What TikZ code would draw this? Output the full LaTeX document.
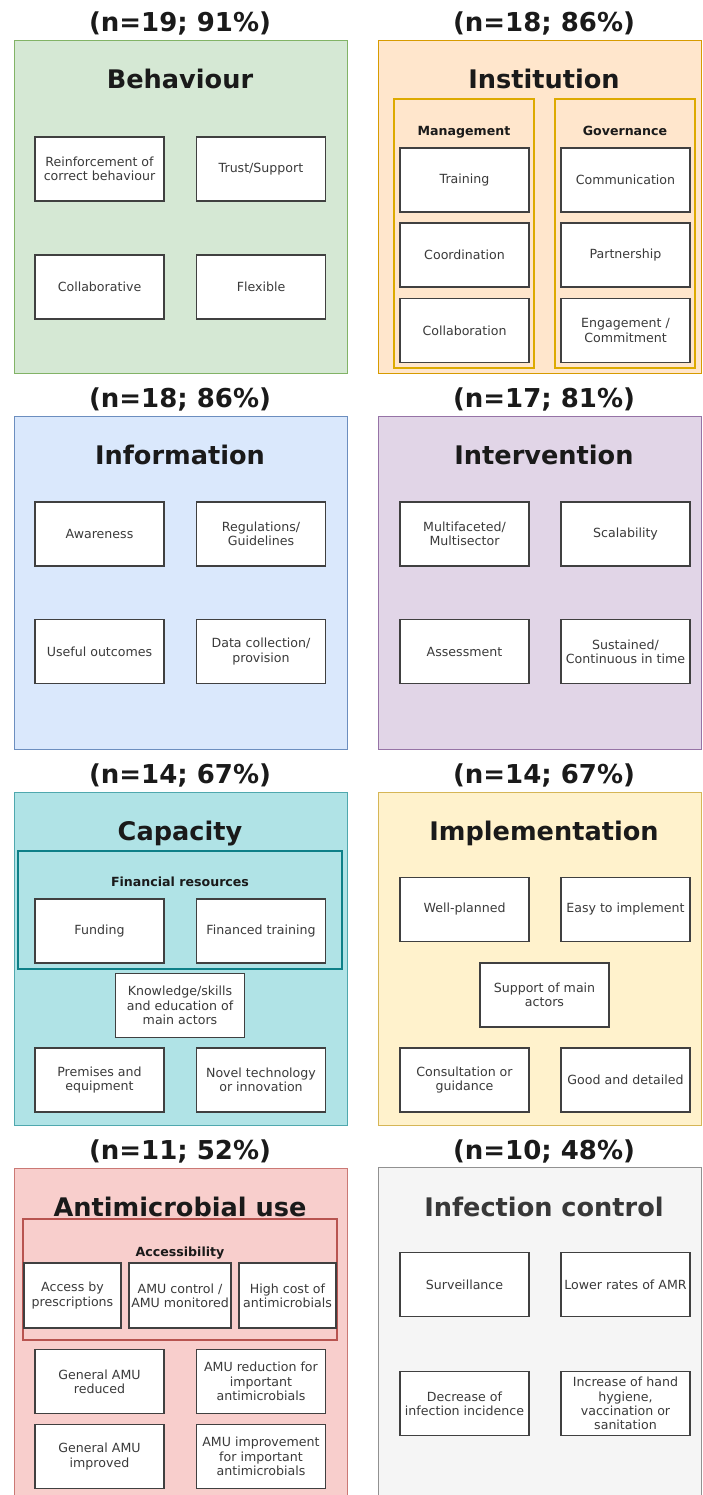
\documentclass[tikz,border=0pt]{standalone}
\usepackage{fontspec}
\setmainfont{DejaVu Sans}
\definecolor{gfill}{HTML}{D5E8D4}\definecolor{gline}{HTML}{82B366}
\definecolor{ofill}{HTML}{FFE6CC}\definecolor{oline}{HTML}{D79B00}
\definecolor{bfill}{HTML}{DAE8FC}\definecolor{bline}{HTML}{6C8EBF}
\definecolor{pfill}{HTML}{E1D5E7}\definecolor{pline}{HTML}{9673A6}
\definecolor{tfill}{HTML}{B0E3E6}\definecolor{tline}{HTML}{0E8088}
\definecolor{yfill}{HTML}{FFF2CC}\definecolor{yline}{HTML}{D6B656}
\definecolor{rfill}{HTML}{F8CECC}\definecolor{rline}{HTML}{B85450}
\definecolor{sfill}{HTML}{F5F5F5}\definecolor{sline}{HTML}{666666}
\definecolor{boxtxt}{HTML}{3A3A3A}
\definecolor{headtxt}{HTML}{1A1A1A}
\begin{document}
\begin{tikzpicture}[x=0.5pt,y=-0.5pt,
  panel/.style={line width=0.5pt},
  grp/.style={line width=1.4pt},
  box/.style={draw=black!75, fill=white, line width=0.7pt, minimum width=64.5pt, minimum height=32pt,
    inner sep=0pt, align=center, font=\fontsize{6.3}{7.15}\selectfont, text=boxtxt},
  head/.style={font=\bfseries\fontsize{12.8}{15}\selectfont, text=headtxt, text height=0.75em, text depth=0.22em, yshift=-1.8pt},
  pct/.style={font=\bfseries\fontsize{13}{15}\selectfont, text=headtxt, text height=0.75em, text depth=0.22em, yshift=-1.8pt},
  sub/.style={font=\bfseries\fontsize{6.3}{7.5}\selectfont, text=headtxt, text height=0.75em, text depth=0.22em}]
\useasboundingbox (0,0) rectangle (702,1495);
\fill[white] (0,0) rectangle (702,1495);

% ---------- Row 1 ----------
\draw[panel, draw=gline, fill=gfill] (14,40) rectangle (347,373);
\node[pct] (t1) at (180,23) {(n=19; 91\%)};
\node[head] (h1) at (180,80) {Behaviour};
\node[box] (b11) at (99.5,169) {Reinforcement of\\correct behaviour};
\node[box] (b12) at (261,169) {Trust/Support};
\node[box] (b13) at (99.5,287) {Collaborative};
\node[box] (b14) at (261,287) {Flexible};

\draw[panel, draw=oline, fill=ofill] (378,40) rectangle (701.5,373);
\node[pct] (t2) at (544,23) {(n=18; 86\%)};
\node[head] (h2) at (544,80) {Institution};
\draw[line width=1pt, draw=oline!85!yellow, fill=ofill] (394,99) rectangle (534,368);
\draw[line width=1pt, draw=oline!85!yellow, fill=ofill] (555,99) rectangle (695,368);
\node[sub] (g21) at (464,130) {Management};
\node[sub] (g22) at (625,130) {Governance};
\node[box] (b21) at (464.5,180) {Training};
\node[box] (b22) at (464.5,255) {Coordination};
\node[box] (b23) at (464.5,330.5) {Collaboration};
\node[box] (b24) at (625.5,180) {Communication};
\node[box] (b25) at (625.5,255) {Partnership};
\node[box] (b26) at (625.5,330.5) {Engagement /\\Commitment};

% ---------- Row 2 ----------
\draw[panel, draw=bline, fill=bfill] (14,416) rectangle (347,749);
\node[pct] (t3) at (180,399) {(n=18; 86\%)};
\node[head] (h3) at (180,456) {Information};
\node[box] (b31) at (99.5,534) {Awareness};
\node[box] (b32) at (261,534) {Regulations/\\Guidelines};
\node[box] (b33) at (99.5,651.5) {Useful outcomes};
\node[box] (b34) at (261,651.5) {Data collection/\\provision};

\draw[panel, draw=pline, fill=pfill] (378,416) rectangle (701.5,749);
\node[pct] (t4) at (544,399) {(n=17; 81\%)};
\node[head] (h4) at (544,456) {Intervention};
\node[box] (b41) at (464.5,534) {Multifaceted/\\Multisector};
\node[box] (b42) at (625.5,534) {Scalability};
\node[box] (b43) at (464.5,651.5) {Assessment};
\node[box] (b44) at (625.5,651.5) {Sustained/\\Continuous in time};

% ---------- Row 3 ----------
\draw[panel, draw=tline!60!tfill, fill=tfill] (14,792) rectangle (347,1125);
\node[pct] (t5) at (180,775) {(n=14; 67\%)};
\node[head] (h5) at (180,832) {Capacity};
\draw[grp, draw=tline] (18,851) rectangle (342,969);
\node[sub] (g51) at (180,881) {Financial resources};
\node[box] (b51) at (99.5,931) {Funding};
\node[box] (b52) at (261,931) {Financed training};
\node[box] (b53) at (180,1005.5) {Knowledge/skills\\and education of\\main actors};
\node[box] (b54) at (99.5,1080) {Premises and\\equipment};
\node[box] (b55) at (261,1080) {Novel technology\\or innovation};

\draw[panel, draw=yline, fill=yfill] (378,792) rectangle (701.5,1125);
\node[pct] (t6) at (544,775) {(n=14; 67\%)};
\node[head] (h6) at (544,832) {Implementation};
\node[box] (b61) at (464.5,909.5) {Well-planned};
\node[box] (b62) at (625.5,909.5) {Easy to implement};
\node[box] (b63) at (544.5,995) {Support of main\\actors};
\node[box] (b64) at (464.5,1080) {Consultation or\\guidance};
\node[box] (b65) at (625.5,1080) {Good and detailed};

% ---------- Row 4 ----------
\draw[panel, draw=rline!70!rfill, fill=rfill] (14,1168) rectangle (347,1510);
\node[pct] (t7) at (180,1151) {(n=11; 52\%)};
\node[head] (h7) at (180,1208) {Antimicrobial use};
\draw[grp, draw=rline] (23,1219) rectangle (337,1340);
\node[sub] (g71) at (180,1251) {Accessibility};
\node[box, minimum width=48.5pt, minimum height=32.5pt] (b71) at (72.5,1295.5) {Access by\\prescriptions};
\node[box, minimum width=51pt, minimum height=32.5pt] (b72) at (180,1295.5) {AMU control /\\AMU monitored};
\node[box, minimum width=48.5pt, minimum height=32.5pt] (b73) at (287.5,1295.5) {High cost of\\antimicrobials};
\node[box] (b74) at (99.5,1381.5) {General AMU\\reduced};
\node[box] (b75) at (261,1381.5) {AMU reduction for\\important\\antimicrobials};
\node[box] (b76) at (99.5,1456.5) {General AMU\\improved};
\node[box] (b77) at (261,1456.5) {AMU improvement\\for important\\antimicrobials};

\draw[panel, draw=sline!70!sfill, fill=sfill] (378,1167) rectangle (701.5,1510);
\node[pct] (t8) at (544,1151) {(n=10; 48\%)};
\node[head, text=black!78] (h8) at (544,1208) {Infection control};
\node[box] (b81) at (464.5,1284.5) {Surveillance};
\node[box] (b82) at (625.5,1284.5) {Lower rates of AMR};
\node[box] (b83) at (464.5,1403.5) {Decrease of\\infection incidence};
\node[box] (b84) at (625.5,1403.5) {Increase of hand\\hygiene,\\vaccination or\\sanitation};
\end{tikzpicture}
\end{document}
